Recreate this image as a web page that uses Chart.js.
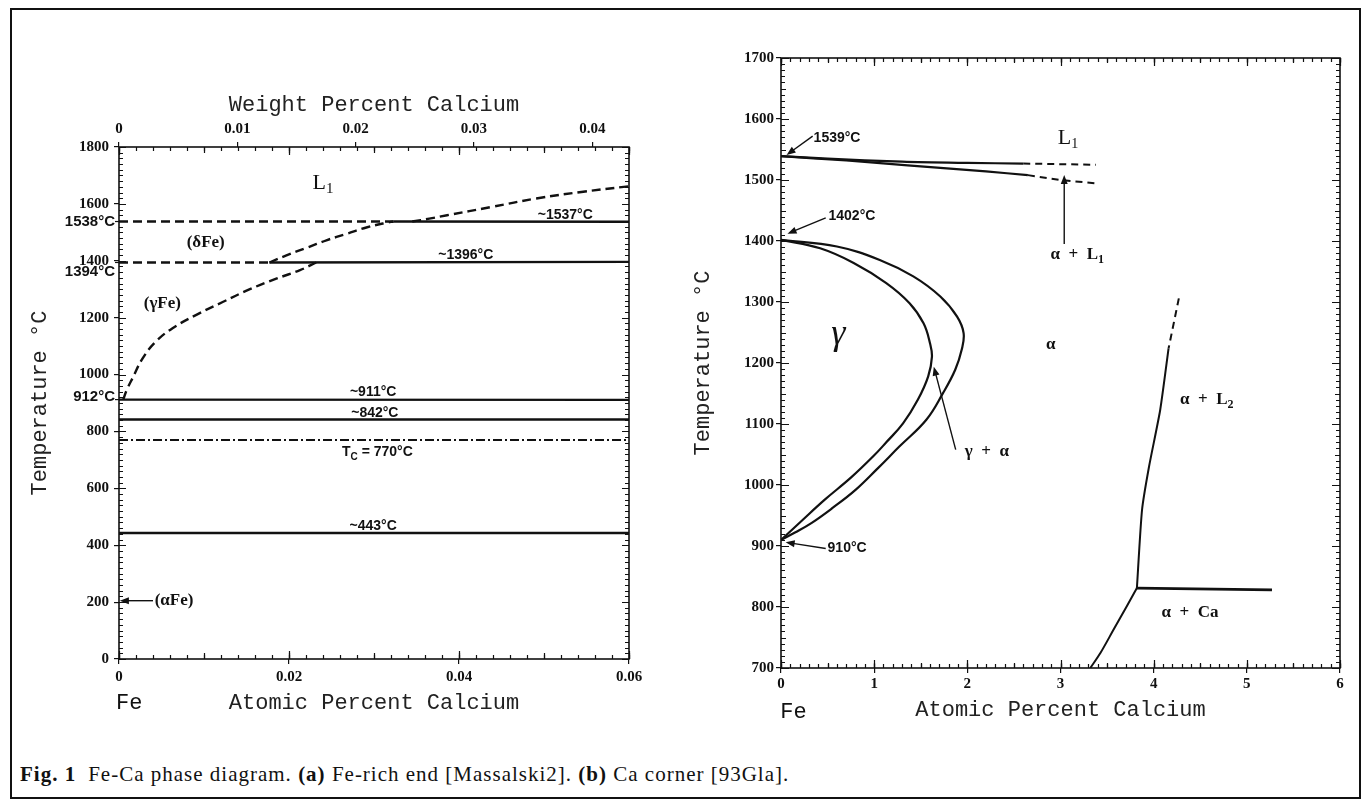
<!DOCTYPE html>
<html>
<head>
<meta charset="utf-8">
<title>Fe-Ca phase diagram</title>
<script src="https://cdn.jsdelivr.net/npm/chart.js@4.4.1/dist/chart.umd.min.js"></script>
<style>
  html, body { margin: 0; padding: 0; background: #fff; }
  #page { position: relative; width: 1367px; height: 812px; overflow: hidden; background: #fff; }
  #frame { position: absolute; left: 10px; top: 8px; width: 1351px; height: 791px; box-sizing: border-box; border: 2px solid #111; }
  #chartA { position: absolute; left: 0; top: 0; }
  #chartB { position: absolute; left: 680px; top: 0; }
  #caption { position: absolute; left: 20px; top: 762px; font: 21px 'Liberation Serif', serif; letter-spacing: 1px; color: #111; white-space: nowrap; }
  #caption .fig { font-weight: bold; margin-right: 12px; }
</style>
</head>
<body>
<div id="page">
  <div id="frame"></div>
  <canvas id="chartA" width="680" height="760"></canvas>
  <canvas id="chartB" width="687" height="760"></canvas>
  <div id="caption"><span class="fig">Fig. 1</span>Fe-Ca phase diagram. <b>(a)</b> Fe-rich end [Massalski2]. <b>(b)</b> Ca corner [93Gla].</div>
</div>
<script>
// ============================================
// Fe-Ca phase diagram – (a) Fe-rich end, (b) Ca corner
// ============================================

// ── (a) Fe-rich end: atomic % Ca vs temperature ──
const aTempTicks = [0, 200, 400, 600, 800, 1000, 1200, 1400, 1600, 1800];
const aAtTicks   = [0, 0.02, 0.04, 0.06];
const aWtTicks   = [0, 0.01, 0.02, 0.03, 0.04];
const aWtMax     = 0.0431;   // wt% equal to 0.06 at% Ca

const aLine1538Dashed = [[0, 1538], [0.0323, 1538]];
const aLine1537       = [[0.0323, 1538], [0.06, 1537]];
const aLine1394Dashed = [[0, 1394], [0.0177, 1394]];
const aLine1396       = [[0.0177, 1394], [0.06, 1396]];
const aGammaCurve     = [[0.0005, 912], [0.0009, 945], [0.0016, 988], [0.0028, 1058], [0.0043, 1115], [0.0063, 1163],
                         [0.0091, 1210], [0.0122, 1255], [0.0154, 1300], [0.0185, 1337], [0.0213, 1367], [0.0232, 1394]];
const aDeltaCurve     = [[0.0177, 1394], [0.0197, 1419], [0.0221, 1446], [0.0244, 1472], [0.0268, 1495],
                         [0.0291, 1517], [0.0315, 1534], [0.0323, 1538]];
const aLiquidus       = [[0.0345, 1538], [0.0365, 1548], [0.0386, 1560], [0.0438, 1589], [0.0491, 1619],
                         [0.0544, 1642], [0.06, 1662]];
const aLine911        = [[0, 912], [0.06, 911]];
const aLine842        = [[0, 842], [0.06, 842]];
const aLineCurie      = [[0, 770], [0.06, 770]];
const aLine443        = [[0, 443], [0.06, 443]];

// ── (b) Ca corner ──
const bTempTicks = [700, 800, 900, 1000, 1100, 1200, 1300, 1400, 1500, 1600, 1700];
const bAtTicks   = [0, 1, 2, 3, 4, 5, 6];

const bUpper1539       = [[0, 1539], [0.5, 1535], [1.3, 1530], [2.0, 1528], [2.6, 1527]];
const bUpper1539Dashed = [[2.6, 1527], [3.38, 1525]];
const bLower1539       = [[0, 1539], [0.7, 1532], [1.36, 1524], [2.2, 1514], [2.65, 1508]];
const bLower1539Dashed = [[2.65, 1508], [3.0, 1500], [3.41, 1494]];
const bGammaInner = [[0, 1402], [0.42, 1388], [0.78, 1364], [1.13, 1331], [1.38, 1298], [1.53, 1265], [1.6, 1232],
                     [1.62, 1210], [1.58, 1178], [1.47, 1140], [1.31, 1101], [1.13, 1070], [0.99, 1047],
                     [0.75, 1012], [0.47, 976], [0.22, 941], [0, 910]];
const bGammaOuter = [[0, 1402], [0.6, 1391], [1.06, 1369], [1.42, 1342], [1.71, 1309], [1.89, 1276], [1.96, 1249],
                     [1.94, 1222], [1.87, 1189], [1.74, 1151], [1.56, 1107], [1.27, 1063], [1.03, 1026],
                     [0.8, 992], [0.55, 962], [0.33, 938], [0.15, 922], [0, 910]];
const bAlphaL2Dashed = [[4.27, 1306], [4.16, 1224]];
const bAlphaL2       = [[4.16, 1224], [4.07, 1123], [3.95, 1030], [3.875, 959], [3.82, 831]];
const bLine830       = [[3.82, 831], [5.27, 828]];
const bAlphaCa       = [[3.82, 831], [3.71, 801], [3.57, 763], [3.43, 725], [3.32, 700]];

// ── Text annotations (data coordinates) ──
const SERIF_B = "bold 17px 'Liberation Serif'";
const SANS_B  = "bold 14px 'Liberation Sans'";
const SIDE_B  = "bold 15px 'Liberation Sans'";
const MONO    = "22px 'Liberation Mono'";

const aLabels = [
  { x: 0.024,  y: 1673, parts: ['L', { sub: '1' }], font: "22px 'Liberation Serif'", subFont: "15px 'Liberation Serif'", shift: 6 },
  { x: 0.0102, y: 1465, parts: ['(δFe)'], font: SERIF_B },
  { x: 0.0051, y: 1250, parts: ['(γFe)'], font: SERIF_B },
  { x: 0.0525, y: 1560, parts: ['~1537°C'], font: SANS_B },
  { x: 0.0408, y: 1419, parts: ['~1396°C'], font: SANS_B },
  { x: 0.0299, y: 937,  parts: ['~911°C'], font: SANS_B },
  { x: 0.0301, y: 863,  parts: ['~842°C'], font: SANS_B },
  { x: 0.0304, y: 726,  parts: ['T', { sub: 'C' }, ' = 770°C'], font: SANS_B, subFont: "bold 10px 'Liberation Sans'", shift: 5 },
  { x: 0.0299, y: 466,  parts: ['~443°C'], font: SANS_B },
  { x: 0.0042, y: 205,  parts: ['(αFe)'], font: SERIF_B, align: 'left' },
  { x: 0.0012, y: -157, parts: ['Fe'], font: MONO }
];
const aArrows = [
  { from: [0.004, 205], to: [0.0001, 205] }
];
const aSideLabels = [
  { value: 1538, text: '1538°C', dy: 0 },
  { value: 1394, text: '1394°C', dy: 9 },
  { value: 912,  text: '912°C',  dy: -3 }
];

const bLabels = [
  { x: 0.35,  y: 1568, parts: ['1539°C'], font: SANS_B, align: 'left' },
  { x: 3.08,  y: 1568, parts: ['L', { sub: '1' }], font: "22px 'Liberation Serif'", subFont: "14px 'Liberation Serif'", shift: 6 },
  { x: 0.51,  y: 1440, parts: ['1402°C'], font: SANS_B, align: 'left' },
  { x: 3.18,  y: 1377, parts: ['α  +  L', { sub: '1' }], font: SERIF_B, subFont: "bold 12px 'Liberation Serif'", shift: 5 },
  { x: 0.615, y: 1246, parts: ['γ'], font: "italic 36px 'Liberation Serif'" },
  { x: 2.895, y: 1230, parts: ['α'], font: SERIF_B },
  { x: 4.57,  y: 1140, parts: ['α  +  L', { sub: '2' }], font: SERIF_B, subFont: "bold 12px 'Liberation Serif'", shift: 5 },
  { x: 2.21,  y: 1055, parts: ['γ  +  α'], font: SERIF_B },
  { x: 0.5,   y: 896,  parts: ['910°C'], font: SANS_B, align: 'left' },
  { x: 4.39,  y: 790,  parts: ['α  +  Ca'], font: SERIF_B },
  { x: 0.134, y: 628,  parts: ['Fe'], font: MONO }
];
const bArrows = [
  { from: [0.34, 1572], to: [0.06, 1541] },
  { from: [0.48, 1438], to: [0.07, 1412] },
  { from: [0.48, 896],  to: [0.05, 906] },
  { from: [1.875, 1058], to: [1.64, 1194] },
  { from: [3.04, 1395], to: [3.04, 1508] }
];

// ── Helpers ──
function toXY(points) {
  return points.map(([x, y]) => ({ x, y }));
}

function lineSet(points, extra) {
  return Object.assign({
    data: toXY(points),
    xAxisID: 'x',
    yAxisID: 'y',
    showLine: true,
    pointRadius: 0,
    borderColor: '#111',
    borderWidth: 2.4,
    fill: false,
    tension: 0
  }, extra);
}

const DASH = [9, 5];
const DASH_DOT = [9, 3, 2, 3];

function drawRich(ctx, x, y, label) {
  const segs = label.parts.map(p => typeof p === 'string' ? { t: p, sub: false } : { t: p.sub, sub: true });
  const subFont = label.subFont || label.font;
  const widths = segs.map(s => { ctx.font = s.sub ? subFont : label.font; return ctx.measureText(s.t).width; });
  const total = widths.reduce((a, b) => a + b, 0);
  const align = label.align || 'center';
  let cx = align === 'left' ? x : align === 'right' ? x - total : x - total / 2;
  ctx.textAlign = 'left';
  ctx.textBaseline = 'middle';
  segs.forEach((s, i) => {
    ctx.font = s.sub ? subFont : label.font;
    ctx.fillText(s.t, cx, y + (s.sub ? (label.shift || 5) : 0));
    cx += widths[i];
  });
}

function drawArrow(ctx, x1, y1, x2, y2) {
  const ang = Math.atan2(y2 - y1, x2 - x1);
  const head = 9, half = 3.5;
  ctx.lineWidth = 1.4;
  ctx.beginPath();
  ctx.moveTo(x1, y1);
  ctx.lineTo(x2 - Math.cos(ang) * head * 0.8, y2 - Math.sin(ang) * head * 0.8);
  ctx.stroke();
  ctx.beginPath();
  ctx.moveTo(x2, y2);
  ctx.lineTo(x2 - Math.cos(ang) * head - Math.sin(ang) * half, y2 - Math.sin(ang) * head + Math.cos(ang) * half);
  ctx.lineTo(x2 - Math.cos(ang) * head + Math.sin(ang) * half, y2 - Math.sin(ang) * head - Math.cos(ang) * half);
  ctx.closePath();
  ctx.fill();
}

// box round the plot + small inward ticks on all four sides
const frameTicks = {
  id: 'frameTicks',
  afterDatasetsDraw(chart, args, opts) {
    const { ctx, chartArea: a } = chart;
    const xs = chart.scales.x, ys = chart.scales.y;
    ctx.save();
    ctx.strokeStyle = '#111';
    ctx.lineWidth = 1.2;
    (opts.xMinor || []).forEach(([step, len]) => {
      const n = Math.round((xs.max - xs.min) / step);
      for (let i = 0; i <= n; i++) {
        const px = Math.round(xs.getPixelForValue(xs.min + i * step)) + 0.5;
        ctx.beginPath();
        ctx.moveTo(px, a.bottom); ctx.lineTo(px, a.bottom - len);
        ctx.moveTo(px, a.top);    ctx.lineTo(px, a.top + len);
        ctx.stroke();
      }
    });
    (opts.yMinor || []).forEach(([step, len]) => {
      const n = Math.round((ys.max - ys.min) / step);
      for (let i = 0; i <= n; i++) {
        const py = Math.round(ys.getPixelForValue(ys.min + i * step)) + 0.5;
        ctx.beginPath();
        ctx.moveTo(a.left, py);  ctx.lineTo(a.left + len, py);
        ctx.moveTo(a.right, py); ctx.lineTo(a.right - len, py);
        ctx.stroke();
      }
    });
    ctx.lineWidth = 1.6;
    ctx.strokeRect(a.left, a.top, a.right - a.left, a.bottom - a.top);
    ctx.restore();
  }
};

// labels, arrows and extra temperature marks
const phaseNotes = {
  id: 'phaseNotes',
  afterDraw(chart, args, opts) {
    const { ctx, chartArea: a } = chart;
    const xs = chart.scales.x, ys = chart.scales.y;
    ctx.save();
    ctx.fillStyle = '#111';
    ctx.strokeStyle = '#111';
    (opts.arrows || []).forEach(ar => {
      drawArrow(ctx,
        xs.getPixelForValue(ar.from[0]), ys.getPixelForValue(ar.from[1]),
        xs.getPixelForValue(ar.to[0]), ys.getPixelForValue(ar.to[1]));
    });
    (opts.labels || []).forEach(l => {
      drawRich(ctx, xs.getPixelForValue(l.x), ys.getPixelForValue(l.y), l);
    });
    (opts.sideLabels || []).forEach(s => {
      const py = ys.getPixelForValue(s.value);
      ctx.font = SIDE_B;
      ctx.textAlign = 'right';
      ctx.textBaseline = 'middle';
      ctx.fillText(s.text, a.left - 4, py + s.dy);
      ctx.lineWidth = 1.2;
      ctx.beginPath();
      ctx.moveTo(a.left - 4, py); ctx.lineTo(a.left, py);
      ctx.stroke();
    });
    ctx.restore();
  }
};

const tickFont = { family: 'Liberation Serif', size: 15, weight: 'bold' };
const titleFont = { family: 'Liberation Mono', size: 22 };
const tickGrid = { drawOnChartArea: false, drawTicks: true, tickLength: 5, color: '#111', lineWidth: 1.2 };
const plainNum = v => String(v);

function fixedWidth(w) { return scale => { scale.width = w; }; }
function fixedHeight(h) { return scale => { scale.height = h; }; }
function tickList(list) { return scale => { scale.ticks = list.map(v => ({ value: v })); }; }

// ── Chart (a) ──
new Chart(document.getElementById('chartA'), {
  type: 'scatter',
  data: {
    datasets: [
      lineSet(aLine1538Dashed, { borderDash: DASH }),
      lineSet(aLine1537),
      lineSet(aLine1394Dashed, { borderDash: DASH }),
      lineSet(aLine1396),
      lineSet(aGammaCurve, { borderDash: DASH, tension: 0.4 }),
      lineSet(aDeltaCurve, { borderDash: DASH, tension: 0.4 }),
      lineSet(aLiquidus, { borderDash: DASH, tension: 0.4 }),
      lineSet(aLine911),
      lineSet(aLine842),
      lineSet(aLineCurie, { borderDash: DASH_DOT, borderWidth: 1.8 }),
      lineSet(aLine443)
    ]
  },
  options: {
    responsive: false,
    animation: false,
    devicePixelRatio: 1,
    layout: { padding: { left: 24, right: 51, top: 80, bottom: 31 } },
    plugins: {
      legend: { display: false },
      tooltip: { enabled: false },
      frameTicks: { xMinor: [[0.002, 4], [0.01, 6], [0.02, 8]], yMinor: [[20, 4], [200, 7]] },
      phaseNotes: { labels: aLabels, arrows: aArrows, sideLabels: aSideLabels }
    },
    scales: {
      x: {
        type: 'linear', position: 'bottom', min: 0, max: 0.06,
        afterBuildTicks: tickList(aAtTicks),
        afterFit: fixedHeight(70),
        grid: tickGrid, border: { display: false },
        ticks: { color: '#111', font: tickFont, padding: 4, autoSkip: false, maxRotation: 0, callback: plainNum },
        title: { display: true, text: 'Atomic Percent Calcium', color: '#222', font: titleFont, padding: { top: 0, bottom: 13 } }
      },
      y: {
        type: 'linear', position: 'left', min: 0, max: 1800,
        afterBuildTicks: tickList(aTempTicks),
        afterFit: fixedWidth(95),
        grid: tickGrid, border: { display: false },
        ticks: { color: '#111', font: tickFont, padding: 5, autoSkip: false, callback: plainNum },
        title: { display: true, text: 'Temperature °C', color: '#222', font: titleFont, padding: { top: 3, bottom: 0 } }
      },
      x2: {
        type: 'linear', position: 'top', min: 0, max: aWtMax, bounds: 'data',
        afterBuildTicks: tickList(aWtTicks),
        afterFit: fixedHeight(67),
        grid: tickGrid, border: { display: false },
        ticks: { color: '#111', font: tickFont, padding: 4, autoSkip: false, maxRotation: 0, includeBounds: false, callback: plainNum },
        title: { display: true, text: 'Weight Percent Calcium', color: '#222', font: titleFont, padding: { top: 12, bottom: 0 } }
      }
    }
  },
  plugins: [frameTicks, phaseNotes]
});

// ── Chart (b) ──
new Chart(document.getElementById('chartB'), {
  type: 'scatter',
  data: {
    datasets: [
      lineSet(bUpper1539, { borderWidth: 2.2, tension: 0.3 }),
      lineSet(bUpper1539Dashed, { borderWidth: 2, borderDash: [7, 5] }),
      lineSet(bLower1539, { borderWidth: 2.2, tension: 0.3 }),
      lineSet(bLower1539Dashed, { borderWidth: 2, borderDash: [7, 5] }),
      lineSet(bGammaInner, { borderWidth: 2.2, tension: 0.4 }),
      lineSet(bGammaOuter, { borderWidth: 2.2, tension: 0.4 }),
      lineSet(bAlphaL2Dashed, { borderWidth: 2, borderDash: [7, 5] }),
      lineSet(bAlphaL2, { borderWidth: 2, tension: 0.2 }),
      lineSet(bLine830, { borderWidth: 2.6 }),
      lineSet(bAlphaCa, { borderWidth: 2, tension: 0.3 })
    ]
  },
  options: {
    responsive: false,
    animation: false,
    devicePixelRatio: 1,
    layout: { padding: { left: 8, right: 27, top: 58, bottom: 22 } },
    plugins: {
      legend: { display: false },
      tooltip: { enabled: false },
      frameTicks: { xMinor: [[0.1, 4], [0.5, 5], [1, 8]], yMinor: [[10, 4], [50, 5], [100, 8]] },
      phaseNotes: { labels: bLabels, arrows: bArrows }
    },
    scales: {
      x: {
        type: 'linear', position: 'bottom', min: 0, max: 6,
        afterBuildTicks: tickList(bAtTicks),
        afterFit: fixedHeight(70),
        grid: tickGrid, border: { display: false },
        ticks: { color: '#111', font: tickFont, padding: 2, autoSkip: false, maxRotation: 0, callback: plainNum },
        title: { display: true, text: 'Atomic Percent Calcium', color: '#222', font: titleFont, padding: { top: 0, bottom: 15 } }
      },
      y: {
        type: 'linear', position: 'left', min: 700, max: 1700,
        afterBuildTicks: tickList(bTempTicks),
        afterFit: fixedWidth(93),
        grid: tickGrid, border: { display: false },
        ticks: { color: '#111', font: tickFont, padding: 2, autoSkip: false, callback: plainNum },
        title: { display: true, text: 'Temperature °C', color: '#222', font: titleFont, padding: { top: 2, bottom: 0 } }
      }
    }
  },
  plugins: [frameTicks, phaseNotes]
});
</script>
</body>
</html>
